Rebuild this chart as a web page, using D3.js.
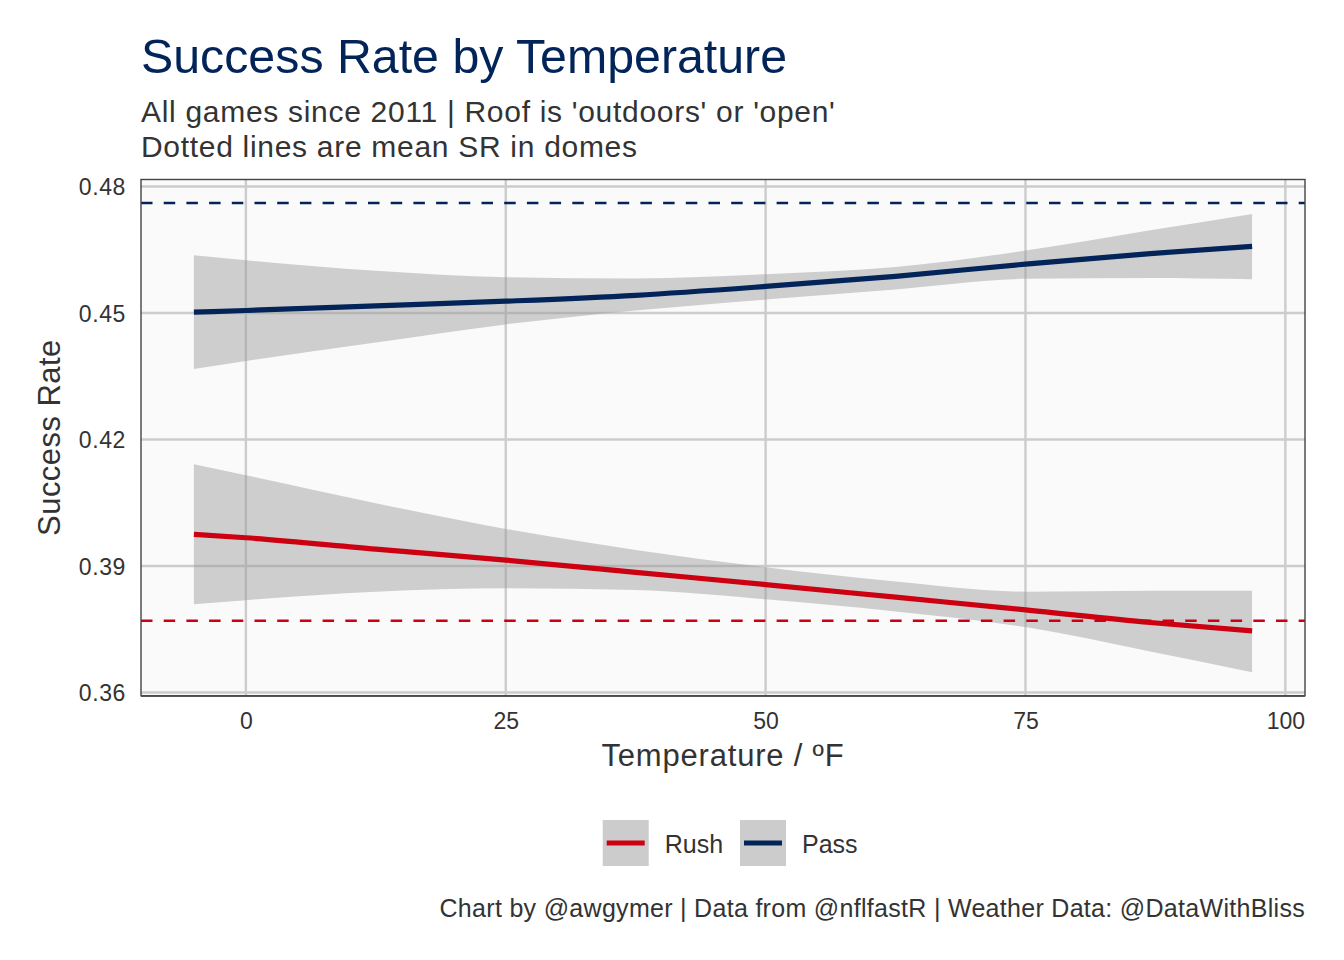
<!DOCTYPE html>
<html>
<head>
<meta charset="utf-8">
<script src="https://cdn.jsdelivr.net/npm/d3@7"></script>
<style>
  html, body { margin: 0; padding: 0; background: #ffffff; }
  svg { display: block; font-family: "Liberation Sans", Arial, Helvetica, sans-serif; }
</style>
</head>
<body>
<svg id="chart" width="1344" height="960"></svg>
<script>
// ---- data ----
const temps = [-5, 0, 12.5, 25, 37.5, 50, 62.5, 75, 87, 96.8];
const passFit   = [0.4502, 0.4506, 0.4517, 0.4528, 0.4542, 0.4563, 0.4587, 0.4616, 0.4641, 0.4658];
const passUpper = [0.4637, 0.4625, 0.4600, 0.4585, 0.4582, 0.4592, 0.4609, 0.4648, 0.4696, 0.4735];
const passLower = [0.4367, 0.4386, 0.4430, 0.4473, 0.4506, 0.4532, 0.4556, 0.4581, 0.4583, 0.4580];
const rushFit   = [0.3975, 0.3967, 0.3940, 0.3914, 0.3885, 0.3856, 0.3826, 0.3796, 0.3766, 0.3746];
const rushUpper = [0.4141, 0.4115, 0.4049, 0.3988, 0.3938, 0.3897, 0.3863, 0.3839, 0.3841, 0.3841];
const rushLower = [0.3809, 0.3819, 0.3839, 0.3847, 0.3843, 0.3821, 0.3792, 0.3755, 0.3697, 0.3648];
const domeMeans = [0.3770, 0.4761];          // Rush, Pass
const seriesNames = ["Rush", "Pass"];
const seriesColors = ["#cc0011", "#022459"];
const xTicks = [0, 25, 50, 75, 100];
const yTicks = [0.36, 0.39, 0.42, 0.45, 0.48];
const titleText = "Success Rate by Temperature";
const subtitleLines = ["All games since 2011 | Roof is 'outdoors' or 'open'", "Dotted lines are mean SR in domes"];
const captionText = "Chart by @awgymer | Data from @nflfastR | Weather Data: @DataWithBliss";
const xTitle = "Temperature / ºF";
const yTitle = "Success Rate";

// ---- layout ----
const panel = { left: 141, right: 1305, top: 179.5, bottom: 695.7 };
const svg = d3.select("#chart");

const xExt = d3.extent(temps);
const xPad = (xExt[1] - xExt[0]) * 0.05;
const x = d3.scaleLinear().domain([xExt[0] - xPad, xExt[1] + xPad]).range([panel.left, panel.right]);

const allY = [].concat(passUpper, passLower, rushUpper, rushLower, domeMeans);
const yExt = d3.extent(allY);
const yPad = (yExt[1] - yExt[0]) * 0.05;
const y = d3.scaleLinear().domain([yExt[0] - yPad, yExt[1] + yPad]).range([panel.bottom, panel.top]);

// panel background
svg.append("rect")
  .attr("x", panel.left).attr("y", panel.top)
  .attr("width", panel.right - panel.left).attr("height", panel.bottom - panel.top)
  .attr("fill", "#fafafa");

// gridlines
const grid = svg.append("g");
grid.selectAll("line.gx").data(xTicks).join("line")
  .attr("x1", d => x(d)).attr("x2", d => x(d))
  .attr("y1", panel.top).attr("y2", panel.bottom)
  .attr("stroke", "#cccccc").attr("stroke-width", 2.4);
grid.selectAll("line.gy").data(yTicks).join("line")
  .attr("y1", d => y(d)).attr("y2", d => y(d))
  .attr("x1", panel.left).attr("x2", panel.right)
  .attr("stroke", "#cccccc").attr("stroke-width", 2.4);

// ribbons
const series = [
  { name: "Rush", fit: rushFit, up: rushUpper, lo: rushLower, mean: domeMeans[0], color: seriesColors[0] },
  { name: "Pass", fit: passFit, up: passUpper, lo: passLower, mean: domeMeans[1], color: seriesColors[1] }
];
const area = d3.area()
  .x(d => x(d.t)).y0(d => y(d.lo)).y1(d => y(d.up))
  .curve(d3.curveMonotoneX);
const line = d3.line()
  .x(d => x(d.t)).y(d => y(d.v))
  .curve(d3.curveMonotoneX);

series.forEach(s => {
  const pts = temps.map((t, i) => ({ t, lo: s.lo[i], up: s.up[i], v: s.fit[i] }));
  svg.append("path").datum(pts)
    .attr("d", area)
    .attr("fill", "#999999").attr("fill-opacity", 0.45);
});

// dome mean dashed lines
series.forEach(s => {
  svg.append("line")
    .attr("x1", panel.left).attr("x2", panel.right)
    .attr("y1", y(s.mean)).attr("y2", y(s.mean))
    .attr("stroke", s.color).attr("stroke-width", 2.4)
    .attr("stroke-dasharray", "11.5,11.2");
});

// fitted lines
series.forEach(s => {
  const pts = temps.map((t, i) => ({ t, v: s.fit[i] }));
  svg.append("path").datum(pts)
    .attr("d", line)
    .attr("fill", "none")
    .attr("stroke", s.color).attr("stroke-width", 5.2)
    .attr("stroke-linecap", "butt");
});

// panel border
svg.append("rect")
  .attr("x", panel.left).attr("y", panel.top)
  .attr("width", panel.right - panel.left).attr("height", panel.bottom - panel.top)
  .attr("fill", "none").attr("stroke", "#444444").attr("stroke-width", 1.4);
svg.append("line")
  .attr("x1", panel.left).attr("x2", panel.right)
  .attr("y1", panel.bottom + 0.6).attr("y2", panel.bottom + 0.6)
  .attr("stroke", "#555555").attr("stroke-width", 1.6);

// axes (tick labels via d3 axes, no domain / tick lines)
const xAxis = svg.append("g")
  .attr("transform", `translate(0,${panel.bottom})`)
  .call(d3.axisBottom(x).tickValues(xTicks).tickSize(0).tickPadding(0).tickFormat(d3.format("d")));
xAxis.select(".domain").remove();
xAxis.selectAll("text")
  .attr("y", 33.5).attr("dy", null)
  .attr("fill", "#333333")
  .style("font-size", "23px")
  .style("font-family", "Liberation Sans, Arial, sans-serif");

const yAxis = svg.append("g")
  .attr("transform", `translate(${panel.left},0)`)
  .call(d3.axisLeft(y).tickValues(yTicks).tickSize(0).tickPadding(0).tickFormat(d3.format(".2f")));
yAxis.select(".domain").remove();
yAxis.selectAll("text")
  .attr("x", -15).attr("dy", "0.36em")
  .attr("fill", "#333333")
  .style("font-size", "23px")
  .style("letter-spacing", "0.6px")
  .style("font-family", "Liberation Sans, Arial, sans-serif");

// axis titles
svg.append("text")
  .attr("x", (panel.left + panel.right) / 2).attr("y", 765.5)
  .attr("text-anchor", "middle")
  .attr("fill", "#333333").style("font-size", "31px").style("letter-spacing", "0.8px")
  .text(xTitle);
svg.append("text")
  .attr("transform", `translate(60,${(panel.top + panel.bottom) / 2}) rotate(-90)`)
  .attr("text-anchor", "middle")
  .attr("fill", "#333333").style("font-size", "31px").style("letter-spacing", "0.45px")
  .text(yTitle);

// title and subtitle
svg.append("text")
  .attr("x", 141).attr("y", 72.5)
  .attr("fill", "#022459").style("font-size", "48.3px")
  .text(titleText);
svg.append("text")
  .attr("x", 141).attr("y", 121.7)
  .attr("fill", "#333333").style("font-size", "30px").style("letter-spacing", "0.7px")
  .text(subtitleLines[0]);
svg.append("text")
  .attr("x", 141).attr("y", 156.7)
  .attr("fill", "#333333").style("font-size", "30px").style("letter-spacing", "0.7px")
  .text(subtitleLines[1]);

// legend
const legendKeys = [602.7, 740];
const legendG = svg.append("g");
seriesNames.forEach((name, i) => {
  const kx = legendKeys[i];
  legendG.append("rect")
    .attr("x", kx).attr("y", 820).attr("width", 46).attr("height", 46)
    .attr("fill", "#cccccc");
  legendG.append("line")
    .attr("x1", kx + 4).attr("x2", kx + 42)
    .attr("y1", 843).attr("y2", 843)
    .attr("stroke", seriesColors[i]).attr("stroke-width", 5.2);
  legendG.append("text")
    .attr("x", kx + 62).attr("y", 852.7)
    .attr("fill", "#333333").style("font-size", "25px")
    .text(name);
});

// caption
svg.append("text")
  .attr("x", 1305).attr("y", 916.7)
  .attr("text-anchor", "end")
  .attr("fill", "#333333").style("font-size", "25px").style("letter-spacing", "0.3px")
  .text(captionText);
</script>
</body>
</html>
